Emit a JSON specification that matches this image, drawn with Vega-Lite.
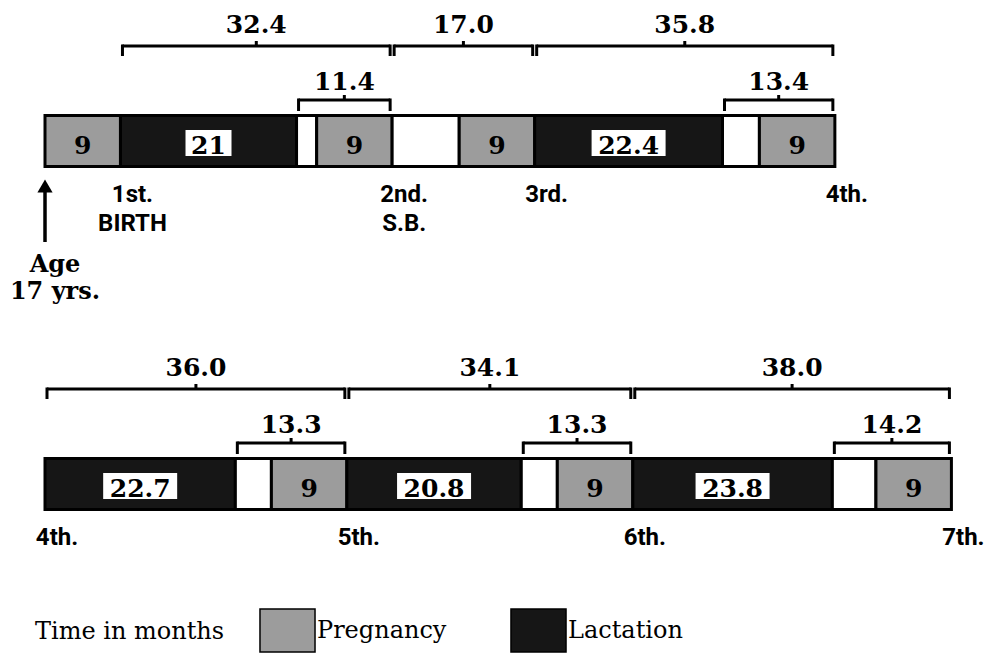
{
  "$schema": "https://vega.github.io/schema/vega-lite/v6.json",
  "width": 986,
  "height": 654,
  "autosize": {"type": "none"},
  "padding": 0,
  "background": "white",
  "config": {"view": {"stroke": null}},
  "datasets": {
    "segments": [
      {"row": 1, "id": "a1", "kind": "Pregnancy", "start": 0, "end": 9, "label": "9"},
      {"row": 1, "id": "a2", "kind": "Lactation", "start": 9, "end": 30, "label": "21"},
      {"row": 1, "id": "a3", "kind": "Interval", "start": 30, "end": 32.4},
      {"row": 1, "id": "a4", "kind": "Pregnancy", "start": 32.4, "end": 41.4, "label": "9"},
      {"row": 1, "id": "a5", "kind": "Interval", "start": 41.4, "end": 49.4},
      {"row": 1, "id": "a6", "kind": "Pregnancy", "start": 49.4, "end": 58.4, "label": "9"},
      {"row": 1, "id": "a7", "kind": "Lactation", "start": 58.4, "end": 80.8, "label": "22.4"},
      {"row": 1, "id": "a8", "kind": "Interval", "start": 80.8, "end": 85.2},
      {"row": 1, "id": "a9", "kind": "Pregnancy", "start": 85.2, "end": 94.2, "label": "9"},
      {"row": 2, "id": "b1", "kind": "Lactation", "start": 0, "end": 22.7, "label": "22.7"},
      {"row": 2, "id": "b2", "kind": "Interval", "start": 22.7, "end": 27},
      {"row": 2, "id": "b3", "kind": "Pregnancy", "start": 27, "end": 36, "label": "9"},
      {"row": 2, "id": "b4", "kind": "Lactation", "start": 36, "end": 56.8, "label": "20.8"},
      {"row": 2, "id": "b5", "kind": "Interval", "start": 56.8, "end": 61.1},
      {"row": 2, "id": "b6", "kind": "Pregnancy", "start": 61.1, "end": 70.1, "label": "9"},
      {"row": 2, "id": "b7", "kind": "Lactation", "start": 70.1, "end": 93.9, "label": "23.8"},
      {"row": 2, "id": "b8", "kind": "Interval", "start": 93.9, "end": 99.1},
      {"row": 2, "id": "b9", "kind": "Pregnancy", "start": 99.1, "end": 108.1, "label": "9"}
    ],
    "brackets": [
      {"row": 1, "id": "o1", "level": "outer", "start": 9, "end": 41.4, "label": "32.4"},
      {"row": 1, "id": "o2", "level": "outer", "start": 41.4, "end": 58.4, "label": "17.0"},
      {"row": 1, "id": "o3", "level": "outer", "start": 58.4, "end": 94.2, "label": "35.8"},
      {"row": 1, "id": "i1", "level": "inner", "start": 30, "end": 41.4, "label": "11.4"},
      {"row": 1, "id": "i2", "level": "inner", "start": 80.8, "end": 94.2, "label": "13.4"},
      {"row": 2, "id": "o4", "level": "outer", "start": 0, "end": 36, "label": "36.0"},
      {"row": 2, "id": "o5", "level": "outer", "start": 36, "end": 70.1, "label": "34.1"},
      {"row": 2, "id": "o6", "level": "outer", "start": 70.1, "end": 108.1, "label": "38.0"},
      {"row": 2, "id": "i3", "level": "inner", "start": 22.7, "end": 36, "label": "13.3"},
      {"row": 2, "id": "i4", "level": "inner", "start": 56.8, "end": 70.1, "label": "13.3"},
      {"row": 2, "id": "i5", "level": "inner", "start": 93.9, "end": 108.1, "label": "14.2"}
    ],
    "births": [
      {"row": 1, "start": 9, "label": "1st.\nBIRTH"},
      {"row": 1, "start": 41.4, "label": "2nd.\nS.B."},
      {"row": 1, "start": 58.4, "label": "3rd."},
      {"row": 1, "start": 94.2, "label": "4th."},
      {"row": 2, "start": 0, "label": "4th."},
      {"row": 2, "start": 36, "label": "5th."},
      {"row": 2, "start": 70.1, "label": "6th."},
      {"row": 2, "start": 108.1, "label": "7th."}
    ],
    "origin": [
      {"row": 1, "start": 0, "label": "Age\n17 yrs."}
    ]
  },
  "encoding": {
    "y": {"field": "row", "type": "quantitative", "scale": {"domain": [1, 2], "range": [141, 484], "zero": false, "nice": false}, "axis": null}
  },
  "layer": [
    {
      "data": {"name": "segments"},
      "mark": {"type": "rect", "stroke": "black", "strokeWidth": 3, "yOffset": -25.5, "y2Offset": 25.5},
      "encoding": {
        "x": {"field": "start", "type": "quantitative", "scale": {"domain": [-5.367, 112.225], "nice": false, "zero": false}, "axis": null},
        "x2": {"field": "end"},
        "y2": {"field": "row"},
        "color": {
          "field": "kind", "type": "nominal",
          "scale": {"domain": ["Pregnancy", "Lactation", "Interval"], "range": ["#9c9c9c", "#161616", "#ffffff"]},
          "legend": {
            "values": ["Pregnancy", "Lactation"],
            "title": "Time in months",
            "orient": "none", "legendX": 35, "legendY": 608,
            "direction": "horizontal",
            "titleOrient": "left", "titleFont": "DejaVu Serif", "titleFontSize": 24, "titleFontWeight": "normal", "titleColor": "black", "titlePadding": 40, "titleLimit": 400,
            "symbolType": "M-1.28,-1L1.28,-1L1.28,1L-1.28,1Z", "symbolSize": 1849,
            "symbolStrokeColor": "black", "symbolStrokeWidth": 1.5, "symbolOpacity": 1,
            "labelFont": "DejaVu Serif", "labelFontSize": 24, "labelColor": "black", "labelOffset": 7, "labelLimit": 300,
            "columnPadding": 60, "padding": 0, "gridAlign": "each"
          }
        }
      }
    },
    {
      "data": {"name": "segments"},
      "transform": [{"filter": "datum.kind == 'Lactation'"}, {"fold": ["start", "end"], "as": ["edge", "t"]}],
      "mark": {"type": "tick", "orient": "horizontal", "thickness": 26, "color": "white", "opacity": 1, "yOffset": 2},
      "encoding": {
        "x": {"aggregate": "mean", "field": "t", "type": "quantitative", "scale": {"domain": [-5.367, 112.225], "nice": false, "zero": false}, "axis": null},
        "detail": [{"field": "id"}, {"field": "label"}],
        "size": {"condition": {"test": "length(datum.label) < 3", "value": 46}, "value": 74}
      }
    },
    {
      "data": {"name": "segments"},
      "transform": [{"filter": "isValid(datum.label)"}, {"fold": ["start", "end"], "as": ["edge", "t"]}],
      "mark": {"type": "text", "font": "DejaVu Serif", "fontWeight": "bold", "fontSize": 25, "baseline": "alphabetic", "align": "center", "yOffset": 13, "color": "black"},
      "encoding": {
        "x": {"aggregate": "mean", "field": "t", "type": "quantitative", "scale": {"domain": [-5.367, 112.225], "nice": false, "zero": false}, "axis": null},
        "text": {"field": "label"},
        "detail": {"field": "id"}
      }
    },
    {
      "data": {"name": "brackets"},
      "transform": [{"filter": "datum.level == 'outer'"}],
      "mark": {"type": "rule", "color": "black", "strokeWidth": 3, "yOffset": -95, "xOffset": 2, "x2Offset": -2},
      "encoding": {
        "x": {"field": "start", "type": "quantitative", "scale": {"domain": [-5.367, 112.225], "nice": false, "zero": false}, "axis": null},
        "x2": {"field": "end"}
      }
    },
    {
      "data": {"name": "brackets"},
      "transform": [{"filter": "datum.level == 'outer'"}],
      "mark": {"type": "rule", "color": "black", "strokeWidth": 3, "yOffset": -96.5, "y2Offset": -85, "xOffset": 2},
      "encoding": {
        "x": {"field": "start", "type": "quantitative", "scale": {"domain": [-5.367, 112.225], "nice": false, "zero": false}, "axis": null},
        "y2": {"field": "row"}
      }
    },
    {
      "data": {"name": "brackets"},
      "transform": [{"filter": "datum.level == 'outer'"}],
      "mark": {"type": "rule", "color": "black", "strokeWidth": 3, "yOffset": -96.5, "y2Offset": -85, "xOffset": -2},
      "encoding": {
        "x": {"field": "end", "type": "quantitative", "scale": {"domain": [-5.367, 112.225], "nice": false, "zero": false}, "axis": null},
        "y2": {"field": "row"}
      }
    },
    {
      "data": {"name": "brackets"},
      "transform": [{"filter": "datum.level == 'outer'"}, {"fold": ["start", "end"], "as": ["edge", "t"]}],
      "mark": {"type": "rule", "color": "black", "strokeWidth": 3, "yOffset": -100, "y2Offset": -95},
      "encoding": {
        "x": {"aggregate": "mean", "field": "t", "type": "quantitative", "scale": {"domain": [-5.367, 112.225], "nice": false, "zero": false}, "axis": null},
        "y2": {"field": "row"},
        "detail": {"field": "id"}
      }
    },
    {
      "data": {"name": "brackets"},
      "transform": [{"filter": "datum.level == 'outer'"}, {"fold": ["start", "end"], "as": ["edge", "t"]}],
      "mark": {"type": "text", "font": "DejaVu Serif", "fontWeight": "bold", "fontSize": 25, "baseline": "alphabetic", "align": "center", "yOffset": -108, "color": "black"},
      "encoding": {
        "x": {"aggregate": "mean", "field": "t", "type": "quantitative", "scale": {"domain": [-5.367, 112.225], "nice": false, "zero": false}, "axis": null},
        "text": {"field": "label"},
        "detail": {"field": "id"}
      }
    },
    {
      "data": {"name": "brackets"},
      "transform": [{"filter": "datum.level == 'inner'"}],
      "mark": {"type": "rule", "color": "black", "strokeWidth": 3, "yOffset": -41, "xOffset": 2, "x2Offset": -2},
      "encoding": {
        "x": {"field": "start", "type": "quantitative", "scale": {"domain": [-5.367, 112.225], "nice": false, "zero": false}, "axis": null},
        "x2": {"field": "end"}
      }
    },
    {
      "data": {"name": "brackets"},
      "transform": [{"filter": "datum.level == 'inner'"}],
      "mark": {"type": "rule", "color": "black", "strokeWidth": 3, "yOffset": -42.5, "y2Offset": -30, "xOffset": 2},
      "encoding": {
        "x": {"field": "start", "type": "quantitative", "scale": {"domain": [-5.367, 112.225], "nice": false, "zero": false}, "axis": null},
        "y2": {"field": "row"}
      }
    },
    {
      "data": {"name": "brackets"},
      "transform": [{"filter": "datum.level == 'inner'"}],
      "mark": {"type": "rule", "color": "black", "strokeWidth": 3, "yOffset": -42.5, "y2Offset": -30, "xOffset": -2},
      "encoding": {
        "x": {"field": "end", "type": "quantitative", "scale": {"domain": [-5.367, 112.225], "nice": false, "zero": false}, "axis": null},
        "y2": {"field": "row"}
      }
    },
    {
      "data": {"name": "brackets"},
      "transform": [{"filter": "datum.level == 'inner'"}, {"fold": ["start", "end"], "as": ["edge", "t"]}],
      "mark": {"type": "rule", "color": "black", "strokeWidth": 3, "yOffset": -46, "y2Offset": -41},
      "encoding": {
        "x": {"aggregate": "mean", "field": "t", "type": "quantitative", "scale": {"domain": [-5.367, 112.225], "nice": false, "zero": false}, "axis": null},
        "y2": {"field": "row"},
        "detail": {"field": "id"}
      }
    },
    {
      "data": {"name": "brackets"},
      "transform": [{"filter": "datum.level == 'inner'"}, {"fold": ["start", "end"], "as": ["edge", "t"]}],
      "mark": {"type": "text", "font": "DejaVu Serif", "fontWeight": "bold", "fontSize": 25, "baseline": "alphabetic", "align": "center", "yOffset": -51, "color": "black"},
      "encoding": {
        "x": {"aggregate": "mean", "field": "t", "type": "quantitative", "scale": {"domain": [-5.367, 112.225], "nice": false, "zero": false}, "axis": null},
        "text": {"field": "label"},
        "detail": {"field": "id"}
      }
    },
    {
      "data": {"name": "births"},
      "mark": {"type": "text", "font": "Roboto", "fontWeight": "bold", "fontSize": 24, "baseline": "alphabetic", "align": "center", "dx": 12, "yOffset": 61, "lineBreak": "\n", "lineHeight": 29, "color": "black"},
      "encoding": {
        "x": {"field": "start", "type": "quantitative", "scale": {"domain": [-5.367, 112.225], "nice": false, "zero": false}, "axis": null},
        "text": {"field": "label"}
      }
    },
    {
      "data": {"name": "origin"},
      "mark": {"type": "rule", "color": "black", "strokeWidth": 3.5, "yOffset": 50, "y2Offset": 101},
      "encoding": {
        "x": {"field": "start", "type": "quantitative", "scale": {"domain": [-5.367, 112.225], "nice": false, "zero": false}, "axis": null},
        "y2": {"field": "row"}
      }
    },
    {
      "data": {"name": "origin"},
      "mark": {"type": "point", "shape": "triangle-up", "filled": true, "color": "black", "opacity": 1, "size": 230, "yOffset": 45},
      "encoding": {
        "x": {"field": "start", "type": "quantitative", "scale": {"domain": [-5.367, 112.225], "nice": false, "zero": false}, "axis": null}
      }
    },
    {
      "data": {"name": "origin"},
      "mark": {"type": "text", "font": "DejaVu Serif", "fontWeight": "bold", "fontSize": 24, "baseline": "alphabetic", "align": "center", "dx": 10, "yOffset": 131, "lineBreak": "\n", "lineHeight": 27, "color": "black"},
      "encoding": {
        "x": {"field": "start", "type": "quantitative", "scale": {"domain": [-5.367, 112.225], "nice": false, "zero": false}, "axis": null},
        "text": {"field": "label"}
      }
    }
  ]
}
